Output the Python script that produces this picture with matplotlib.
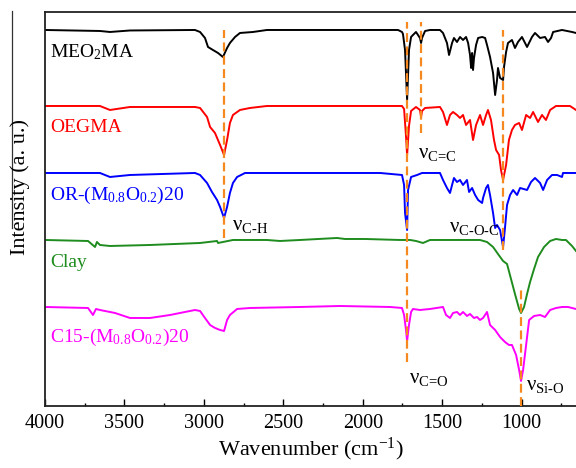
import matplotlib
matplotlib.use('Agg')
import matplotlib.pyplot as plt
from matplotlib.lines import Line2D
from matplotlib.ticker import MultipleLocator, NullLocator

plt.rcParams['font.family'] = ['Liberation Serif', 'DejaVu Serif']
plt.rcParams['mathtext.fontset'] = 'custom'
plt.rcParams['mathtext.rm'] = 'Liberation Serif'
plt.rcParams['mathtext.it'] = 'Liberation Serif:italic'

# spectra (relative transmittance, baseline ~100)
meo_wn = [4000, 3654, 3591, 3465, 3056, 3024, 2993, 2974, 2943, 2911, 2880, 2854, 2836, 2804, 2773,
          2691, 2603, 1778, 1753, 1747, 1734, 1721, 1709, 1696, 1684, 1665, 1640, 1633, 1627, 1608,
          1577, 1514, 1495, 1470, 1457, 1438, 1426, 1407, 1388, 1369, 1350, 1337, 1325, 1318, 1312,
          1306, 1300, 1287, 1274, 1249, 1230, 1218, 1199, 1180, 1167, 1155, 1149, 1136, 1117, 1111,
          1098, 1086, 1061, 1042, 1023, 998, 966, 935, 916, 884, 853, 834, 815, 802, 746, 683, 658]
meo_t = [100, 99, 98, 99.5, 100, 98, 92, 83, 80, 77, 73, 82, 87, 93, 97,
         98, 100, 100, 98, 96, 80, 30, 80, 93, 95, 98, 92, 87, 92, 99,
         100, 100, 97, 87, 75, 87, 92, 88, 93, 90, 93, 87, 75, 62, 77,
         60, 72, 85, 92, 93, 92, 85, 73, 57, 35, 50, 62, 52, 50, 63,
         78, 87, 90, 82, 88, 93, 83, 93, 97, 92, 93, 88, 92, 98, 100, 98, 97]

oeg_wn = [4000, 3654, 3591, 3465, 3056, 3024, 2980, 2961, 2930, 2898, 2873, 2854, 2836, 2817, 2773,
          2710, 2603, 1753, 1740, 1728, 1721, 1709, 1696, 1665, 1640, 1633, 1627, 1608, 1514, 1495,
          1470, 1451, 1432, 1407, 1388, 1369, 1350, 1325, 1306, 1287, 1262, 1243, 1224, 1212, 1193,
          1174, 1161, 1142, 1130, 1117, 1098, 1080, 1061, 1042, 1016, 998, 972, 947, 928, 897,
          872, 847, 821, 784, 696, 658]
oeg_t = [100, 100, 96, 99, 99, 98, 89, 79, 73, 61, 51, 66, 83, 91, 96,
         98, 100, 100, 97, 70, 51, 80, 95, 99, 96, 89, 95, 98, 99, 94,
         81, 91, 94, 91, 88, 91, 81, 86, 66, 81, 91, 81, 91, 96, 86,
         66, 56, 51, 36, 26, 41, 66, 76, 81, 83, 76, 91, 88, 94, 84,
         91, 86, 96, 100, 100, 96]

orm_wn = [4000, 3654, 3591, 3465, 3056, 3024, 2980, 2949, 2917, 2898, 2873, 2854, 2836, 2817, 2791,
          2741, 1891, 1753, 1740, 1734, 1721, 1715, 1696, 1658, 1627, 1514, 1495, 1470, 1451, 1438,
          1426, 1407, 1388, 1369, 1344, 1331, 1312, 1293, 1274, 1249, 1243, 1224, 1212, 1199, 1180,
          1167, 1155, 1136, 1117, 1105, 1092, 1073, 1054, 1029, 1010, 966, 941, 916, 884, 865,
          840, 809, 777, 746, 740, 658]
orm_t = [100, 100, 96, 98, 100, 98, 90, 81, 73, 66, 55, 66, 80, 90, 96,
         100, 100, 98, 88, 60, 43, 83, 96, 98, 100, 100, 93, 85, 80, 88,
         95, 91, 93, 88, 93, 81, 85, 78, 73, 70, 75, 85, 88, 78, 60,
         45, 48, 43, 26, 45, 68, 78, 83, 78, 85, 83, 91, 95, 90, 83,
         93, 98, 98, 96, 100, 100]

clay_wn = [4000, 3729, 3685, 3673, 3654, 3591, 3339, 3024, 2917, 2911, 2817, 2603, 2521, 2395, 2162,
           2112, 1986, 1765, 1702, 1665, 1621, 1577, 1262, 1218, 1180, 1149, 1117, 1092, 1067, 1042,
           1016, 1004, 985, 966, 947, 922, 897, 859, 821, 784, 746, 721, 683, 658]
clay_t = [100, 99, 93, 98, 95, 94, 95, 97, 99, 97, 100, 100, 99, 100, 102,
          101, 101, 100, 100, 99, 97, 100, 100, 98, 93, 86, 79, 76, 61, 46,
          31, 27, 33, 46, 58, 71, 83, 93, 99, 101, 100, 100, 94, 89]

c15_wn = [4000, 3729, 3698, 3679, 3654, 3559, 3465, 3339, 3213, 3056, 3024, 2993, 2961, 2930, 2898,
          2873, 2854, 2836, 2791, 2710, 2395, 2143, 1828, 1753, 1740, 1728, 1721, 1709, 1696, 1684,
          1640, 1577, 1495, 1476, 1451, 1432, 1407, 1388, 1369, 1344, 1325, 1300, 1281, 1262, 1243,
          1218, 1199, 1167, 1136, 1105, 1080, 1061, 1035, 1016, 1004, 991, 972, 953, 922, 884,
          853, 821, 784, 746, 708, 658]
c15_t = [100, 99, 92, 98, 97, 94, 89, 89, 92, 97, 96, 89, 82, 79, 77,
         76, 87, 92, 98, 99, 100, 101, 100, 99, 92, 77, 66, 82, 95, 98,
         97, 98, 100, 92, 89, 94, 95, 92, 95, 91, 93, 89, 90, 87, 89,
         95, 82, 77, 70, 65, 62, 62, 52, 37, 26, 37, 62, 87, 91, 92,
         90, 97, 99, 100, 100, 98]

series_names = ['MEO$_2$MA', 'OEGMA', 'OR-(M$_{0.8}$O$_{0.2}$)20', 'Clay', 'C15-(M$_{0.8}$O$_{0.2}$)20']
series_colors = ['black', '#ff0000', '#0000ff', '#1e8c1e', '#ff00ff']
offsets = [276, 200, 133, 66, -1]
label_y = [354, 278, 211, 143, 69]

# band assignments: wavenumber, dashed line span, label text and spot
band_wn = [2874, 1721, 1635, 1117, 1004]
band_span = [(168, 376), (44, 384), (273, 384), (156, 376), (0, 116)]
band_text = [r'ν$_{\text{C-H}}$', r'ν$_{\text{C=O}}$', r'ν$_{\text{C=C}}$',
             r'ν$_{\text{C-O-C}}$', r'ν$_{\text{Si-O}}$']
band_text_x = [2820, 1712, 1655, 1460, 975]
band_text_y = [180, 27, 252, 178, 20]

fig = plt.figure(figsize=(5.76, 4.68), dpi=100)
ax = fig.add_axes([0.0781, 0.1325, 0.9219, 0.8419])

spectra = [(meo_wn, meo_t), (oeg_wn, oeg_t), (orm_wn, orm_t), (clay_wn, clay_t), (c15_wn, c15_t)]
for (wn, t), name, col, off, ly in zip(spectra, series_names, series_colors, offsets, label_y):
    ax.plot(wn, [v + off for v in t], color=col, lw=1.4)
    ax.text(3970, ly, name, color=col, fontsize=14, va='center', ha='left')

for wn, (y0, y1) in zip(band_wn, band_span):
    ax.plot([wn, wn], [y0, y1], color='#f5891f', lw=1.6, linestyle=(0, (4, 2)), zorder=3)

for txt, tx, ty in zip(band_text, band_text_x, band_text_y):
    ax.text(tx, ty, txt, fontsize=15, ha='left', va='center', color='black')

ax.set_xlim(4000, 658)
ax.set_ylim(0, 394)
ax.xaxis.set_major_locator(MultipleLocator(500))
ax.xaxis.set_minor_locator(MultipleLocator(250))
ax.yaxis.set_major_locator(NullLocator())
ax.tick_params(axis='x', which='major', direction='in', length=5, width=1, labelsize=14.5, pad=6)
ax.tick_params(axis='x', which='minor', direction='in', length=2.5, width=1)
ax.spines['right'].set_visible(False)
for s in ['left', 'top', 'bottom']:
    ax.spines[s].set_visible(True)
    ax.spines[s].set_linewidth(1.3)
    ax.spines[s].set_color('#222222')

ax.set_xlabel('Wavenumber (cm$^{-1}$)', fontsize=16, labelpad=2)
fig.text(0.035, 0.60, 'Intensity (a. u.)', rotation=90, fontsize=16, ha='center', va='center')
fig.add_artist(Line2D([0.021, 0.021], [0.976, 0.513], color='#333333', lw=0.9))

fig.savefig('out.png', dpi=100)
